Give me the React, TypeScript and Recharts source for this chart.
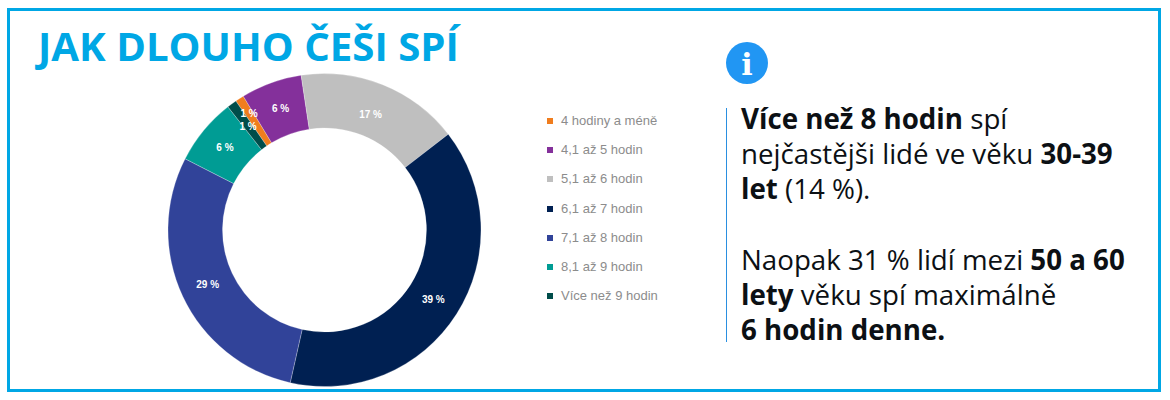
import React from 'react';
import { PieChart, Pie, Cell, Legend } from 'recharts';

const CATEGORIES = ['4 hodiny a méně', '4,1 až 5 hodin', '5,1 až 6 hodin', '6,1 až 7 hodin', '7,1 až 8 hodin', '8,1 až 9 hodin', 'Více než 9 hodin'];
const SHARES = [0.9, 6.3, 16.9, 39, 29, 6.9, 1];
const SHARE_LABELS = ['1 %', '6 %', '17 %', '39 %', '29 %', '6 %', '1 %'];
const COLORS = ['#f07d1e', '#84309b', '#bfbfbf', '#002052', '#314399', '#009c94', '#004d4a'];

const data = CATEGORIES.map((name, i) => ({ name, value: SHARES[i], fill: COLORS[i] }));

const RAD = Math.PI / 180;

function renderSliceLabel(props: any) {
  const { cx, cy, midAngle, index } = props;
  // the small orange slice has its label pushed outward so it clears the neighbour
  const r = index === 0 ? 139 : index === 2 ? 124 : 129;
  const x = cx + r * Math.cos(-midAngle * RAD);
  const y = cy + r * Math.sin(-midAngle * RAD);
  return (
    <text x={x} y={y} fill="#fff" fontFamily="Liberation Sans" fontWeight={700} fontSize={10} textAnchor="middle" dominantBaseline="central">
      {SHARE_LABELS[index]}
    </text>
  );
}

function LegendList() {
  return (
    <div>
      {CATEGORIES.map((name, i) => (
        <div key={name} style={{ position: 'relative', height: 29.2, lineHeight: '29.2px', fontFamily: 'Liberation Sans', fontSize: 13, color: '#8c8c8c', whiteSpace: 'nowrap' }}>
          <span style={{ position: 'absolute', left: 0, top: 12, width: 6, height: 6, background: COLORS[i] }} />
          <span style={{ position: 'absolute', left: 14 }}>{name}</span>
        </div>
      ))}
    </div>
  );
}

const lineStyle: React.CSSProperties = { position: 'absolute', left: 741, fontFamily: 'Open Sans', fontSize: 27.7, lineHeight: '35px', color: '#0c1014', whiteSpace: 'nowrap' };

function Line({ top, children }: { top: number; children: React.ReactNode }) {
  return <div style={{ ...lineStyle, top }}>{children}</div>;
}

export default function App() {
  return (
    <div style={{ position: 'absolute', left: 0, top: 0, width: 1170, height: 400, background: '#fff', overflow: 'hidden' }}>
      <div style={{ position: 'absolute', left: 7, top: 8, width: 1154, height: 384, boxSizing: 'border-box', border: '3px solid #00a7e5' }} />
      <div style={{ position: 'absolute', left: 38, top: 20, fontFamily: 'Open Sans', fontWeight: 700, fontSize: 40.2, lineHeight: '52px', color: '#00a7e5', whiteSpace: 'nowrap' }}>
        JAK DLOUHO ČEŠI SPÍ
      </div>

      <div style={{ position: 'absolute', left: 0, top: 0 }}>
        <PieChart width={700} height={400} margin={{ top: 0, right: 0, bottom: 0, left: 0 }}>
          <Pie
            data={data}
            dataKey="value"
            nameKey="name"
            cx={324.5}
            cy={230}
            innerRadius={102}
            outerRadius={156.5}
            startAngle={124.5}
            endAngle={-235.5}
            stroke="#ffffff"
            strokeWidth={0.25}
            label={renderSliceLabel}
            labelLine={false}
            isAnimationActive={false}
          >
            {data.map((d) => (
              <Cell key={d.name} fill={d.fill} />
            ))}
          </Pie>
          <Legend layout="vertical" align="right" verticalAlign="top" wrapperStyle={{ left: 547, top: 106, width: 140 }} content={() => <LegendList />} />
        </PieChart>
      </div>

      <svg width={44} height={44} style={{ position: 'absolute', left: 725, top: 41 }}>
        <circle cx={22} cy={22} r={21} fill="#2196f3" />
        <text x={22} y={34} textAnchor="middle" fontFamily="DejaVu Serif" fontWeight={700} fontSize={30} fill="#fff">i</text>
      </svg>

      <div style={{ position: 'absolute', left: 726, top: 108, width: 1, height: 234, background: '#2a8fe0' }} />

      <Line top={101}><b>Více než 8 hodin</b> spí</Line>
      <Line top={136}>nejčastějši lidé ve věku <b>30-39</b></Line>
      <Line top={171}><b>let</b> (14 %).</Line>
      <Line top={242}>Naopak 31 % lidí mezi <b>50 a 60</b></Line>
      <Line top={277}><b>lety</b> věku spí maximálně</Line>
      <Line top={312}><b>6 hodin denne.</b></Line>
    </div>
  );
}
